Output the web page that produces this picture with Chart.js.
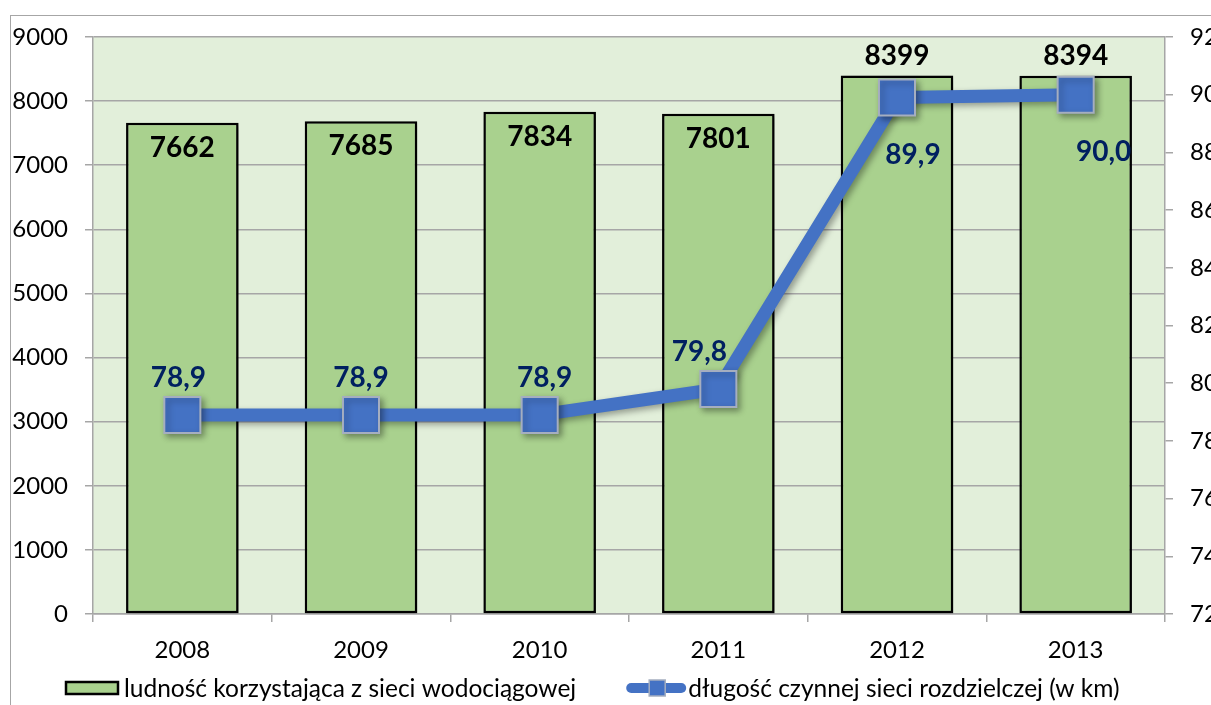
<!DOCTYPE html>
<html>
<head>
<meta charset="utf-8">
<script src="https://cdn.jsdelivr.net/npm/chart.js@4.4.0/dist/chart.umd.min.js"></script>
<style>
    html, body { margin: 0; padding: 0; background: #fff; overflow: hidden; }
    #frame { position: absolute; left: 10px; top: 15px; width: 1300px; height: 800px; border: 1px solid #A6A6A6; }
    #wrap { position: absolute; left: 0; top: 0; width: 1260px; height: 705px; }
</style>
</head>
<body>
<div id="frame"></div>
<div id="wrap"><canvas id="waterChart" width="1260" height="705"></canvas></div>
<script>
// Data
const years = ['2008', '2009', '2010', '2011', '2012', '2013'];
const population = [7662, 7685, 7834, 7801, 8399, 8394];
const networkKm = [78.9, 78.9, 78.9, 79.8, 89.9, 90.0];
const populationAxis = { min: 0, max: 9000, step: 1000 };
const networkAxis = { min: 72, max: 92, step: 2 };
const seriesNames = [
    'ludność korzystająca z sieci wodociągowej',
    'długość czynnej sieci rozdzielczej (w km)'
];

const FONT = 'Lato, "Open Sans", sans-serif';
const GRID = '#A6A6A6';

// Light green plot background
const plotBackground = {
    id: 'plotBackground',
    beforeDraw(chart) {
        const { ctx, chartArea: a } = chart;
        ctx.save();
        ctx.fillStyle = '#E2EFDA';
        ctx.fillRect(a.left, a.top, a.right - a.left, a.bottom - a.top);
        ctx.restore();
    }
};

// Soft shadow under bars and line, like the office chart
const softShadow = {
    id: 'softShadow',
    beforeDatasetDraw(chart) {
        const ctx = chart.ctx;
        ctx.save();
        ctx.shadowColor = 'rgba(0, 0, 0, 0.35)';
        ctx.shadowBlur = 6;
        ctx.shadowOffsetX = 3;
        ctx.shadowOffsetY = 3;
    },
    afterDatasetDraw(chart) {
        chart.ctx.restore();
    }
};

// Value labels on bars and points
const valueLabels = {
    id: 'valueLabels',
    afterDatasetsDraw(chart, args, opts) {
        const ctx = chart.ctx;
        const bars = chart.getDatasetMeta(0).data;
        const points = chart.getDatasetMeta(1).data;
        ctx.save();
        ctx.textAlign = 'center';
        ctx.textBaseline = 'middle';
        ctx.font = 'bold 28px ' + FONT;
        bars.forEach((bar, i) => {
            const pt = points[i];
            const crowded = Math.abs(pt.y - bar.y) < 45;
            ctx.fillStyle = '#000';
            ctx.fillText(String(population[i]), bar.x, crowded ? bar.y - 20 : bar.y + 25);
            ctx.fillStyle = '#002060';
            const dx = opts.lineShift[i] || 0;
            const txt = networkKm[i].toFixed(1).replace('.', ',');
            ctx.fillText(txt, pt.x + dx, crowded ? pt.y + 57 : pt.y - 37);
        });
        ctx.restore();
    }
};

// Bottom legend
const bottomLegend = {
    id: 'bottomLegend',
    afterDraw(chart) {
        const ctx = chart.ctx;
        const ds = chart.data.datasets;
        const y = 688;
        ctx.save();
        ctx.font = '24.5px ' + FONT;
        ctx.textBaseline = 'middle';

        let x = 66;
        ctx.fillStyle = ds[0].backgroundColor;
        ctx.fillRect(x, y - 6, 52, 12);
        ctx.strokeStyle = '#000';
        ctx.lineWidth = 2.5;
        ctx.strokeRect(x, y - 6, 52, 12);
        x += 58;
        ctx.fillStyle = '#000';
        ctx.fillText(ds[0].label, x, y + 1);
        x += ctx.measureText(ds[0].label).width + 50;

        ctx.strokeStyle = ds[1].borderColor;
        ctx.lineWidth = 10;
        ctx.lineCap = 'round';
        ctx.beginPath();
        ctx.moveTo(x + 5, y);
        ctx.lineTo(x + 55, y);
        ctx.stroke();
        ctx.fillStyle = ds[1].pointBackgroundColor;
        ctx.fillRect(x + 23, y - 8, 16, 16);
        ctx.strokeStyle = ds[1].pointBorderColor;
        ctx.lineWidth = 1.5;
        ctx.strokeRect(x + 23, y - 8, 16, 16);
        x += 62;
        ctx.fillStyle = '#000';
        ctx.fillText(ds[1].label, x, y + 1);
        ctx.restore();
    }
};

new Chart(document.getElementById('waterChart'), {
    data: {
        labels: years,
        datasets: [{
            type: 'bar',
            label: seriesNames[0],
            data: population,
            yAxisID: 'y',
            order: 2,
            backgroundColor: '#A9D18E',
            borderColor: '#000',
            borderWidth: 2.5,
            borderSkipped: false,
            categoryPercentage: 1,
            barPercentage: 0.63
        }, {
            type: 'line',
            label: seriesNames[1],
            data: networkKm,
            yAxisID: 'y1',
            order: 1,
            borderColor: '#4472C4',
            borderWidth: 13,
            borderJoinStyle: 'round',
            tension: 0,
            pointStyle: 'rect',
            pointRadius: 25.5,
            pointBackgroundColor: '#4472C4',
            pointBorderColor: '#A5AEC0',
            pointBorderWidth: 2
        }]
    },
    options: {
        responsive: false,
        devicePixelRatio: 1,
        animation: false,
        layout: { padding: { top: 37, left: 0, right: 0, bottom: 0 } },
        plugins: {
            legend: { display: false },
            tooltip: { enabled: false },
            valueLabels: { lineShift: [-4, 0, 5, -19, 16, 28] }
        },
        scales: {
            x: {
                offset: true,
                grid: { offset: true, drawOnChartArea: false, drawTicks: true, tickLength: 8, color: GRID, lineWidth: 1.5 },
                border: { display: true, color: GRID, width: 1.5 },
                ticks: { color: '#000', font: { family: FONT, size: 24 }, padding: 14 },
                afterFit: s => { s.height = 91; }
            },
            y: {
                position: 'left',
                min: populationAxis.min,
                max: populationAxis.max,
                grid: { color: GRID, lineWidth: 1.5, tickLength: 8 },
                border: { display: true, color: GRID, width: 1.5 },
                ticks: {
                    stepSize: populationAxis.step,
                    color: '#000',
                    font: { family: FONT, size: 24 },
                    padding: 17,
                    callback: v => String(v)
                },
                afterFit: s => { s.width = 93; }
            },
            y1: {
                position: 'right',
                min: networkAxis.min,
                max: networkAxis.max,
                grid: { drawOnChartArea: false, color: GRID, lineWidth: 1.5, tickLength: 8 },
                border: { display: true, color: GRID, width: 1.5 },
                ticks: {
                    stepSize: networkAxis.step,
                    color: '#000',
                    font: { family: FONT, size: 24 },
                    padding: 17,
                    callback: v => String(v)
                },
                afterFit: s => { s.width = 95; }
            }
        }
    },
    plugins: [plotBackground, softShadow, valueLabels, bottomLegend]
});
</script>
</body>
</html>
